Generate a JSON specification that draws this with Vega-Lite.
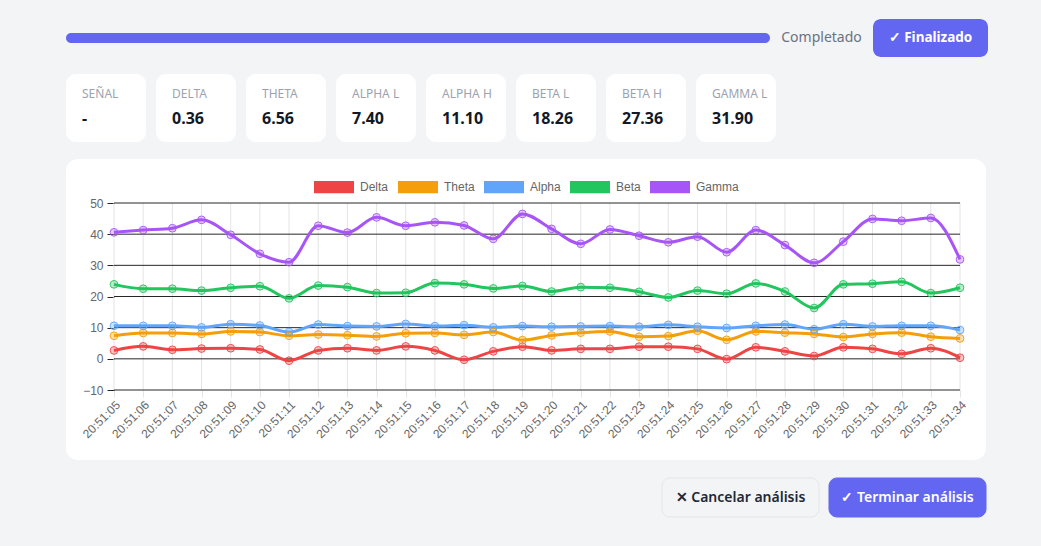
{
  "$schema": "https://vega.github.io/schema/vega-lite/v6.json",
  "background": "#f3f4f6",
  "padding": {"left": 66, "top": 19, "right": 55, "bottom": 30},
  "config": {
    "view": {"stroke": null},
    "font": "Noto Sans",
    "text": {"font": "Noto Sans"}
  },
  "datasets": {
    "ondas": [
      {"tiempo": "20:51:05", "Delta": 2.7, "Theta": 7.4, "Alpha": 10.6, "Beta": 23.9, "Gamma": 40.6},
      {"tiempo": "20:51:06", "Delta": 4.0, "Theta": 8.3, "Alpha": 10.6, "Beta": 22.5, "Gamma": 41.3},
      {"tiempo": "20:51:07", "Delta": 2.9, "Theta": 8.3, "Alpha": 10.6, "Beta": 22.5, "Gamma": 41.9},
      {"tiempo": "20:51:08", "Delta": 3.3, "Theta": 8.0, "Alpha": 10.1, "Beta": 21.9, "Gamma": 44.6},
      {"tiempo": "20:51:09", "Delta": 3.4, "Theta": 8.8, "Alpha": 11.1, "Beta": 22.8, "Gamma": 39.8},
      {"tiempo": "20:51:10", "Delta": 3.0, "Theta": 8.6, "Alpha": 10.7, "Beta": 23.3, "Gamma": 33.7},
      {"tiempo": "20:51:11", "Delta": -0.6, "Theta": 7.4, "Alpha": 8.6, "Beta": 19.4, "Gamma": 31.0},
      {"tiempo": "20:51:12", "Delta": 2.7, "Theta": 7.8, "Alpha": 11.0, "Beta": 23.5, "Gamma": 42.7},
      {"tiempo": "20:51:13", "Delta": 3.4, "Theta": 7.6, "Alpha": 10.5, "Beta": 23.0, "Gamma": 40.5},
      {"tiempo": "20:51:14", "Delta": 2.7, "Theta": 7.2, "Alpha": 10.4, "Beta": 21.1, "Gamma": 45.4},
      {"tiempo": "20:51:15", "Delta": 4.0, "Theta": 8.2, "Alpha": 11.2, "Beta": 21.2, "Gamma": 42.7},
      {"tiempo": "20:51:16", "Delta": 2.7, "Theta": 8.3, "Alpha": 10.5, "Beta": 24.3, "Gamma": 43.8},
      {"tiempo": "20:51:17", "Delta": -0.3, "Theta": 7.7, "Alpha": 10.8, "Beta": 23.9, "Gamma": 42.8},
      {"tiempo": "20:51:18", "Delta": 2.4, "Theta": 8.6, "Alpha": 10.1, "Beta": 22.6, "Gamma": 38.5},
      {"tiempo": "20:51:19", "Delta": 3.9, "Theta": 6.0, "Alpha": 10.5, "Beta": 23.4, "Gamma": 46.5},
      {"tiempo": "20:51:20", "Delta": 2.7, "Theta": 7.5, "Alpha": 10.3, "Beta": 21.6, "Gamma": 41.7},
      {"tiempo": "20:51:21", "Delta": 3.2, "Theta": 8.4, "Alpha": 10.4, "Beta": 23.0, "Gamma": 36.9},
      {"tiempo": "20:51:22", "Delta": 3.2, "Theta": 8.8, "Alpha": 10.5, "Beta": 22.8, "Gamma": 41.5},
      {"tiempo": "20:51:23", "Delta": 3.9, "Theta": 7.1, "Alpha": 10.3, "Beta": 21.5, "Gamma": 39.5},
      {"tiempo": "20:51:24", "Delta": 3.9, "Theta": 7.3, "Alpha": 10.9, "Beta": 19.7, "Gamma": 37.4},
      {"tiempo": "20:51:25", "Delta": 3.2, "Theta": 9.0, "Alpha": 10.3, "Beta": 21.9, "Gamma": 39.2},
      {"tiempo": "20:51:26", "Delta": -0.1, "Theta": 6.1, "Alpha": 9.9, "Beta": 20.9, "Gamma": 34.2},
      {"tiempo": "20:51:27", "Delta": 3.7, "Theta": 8.8, "Alpha": 10.6, "Beta": 24.2, "Gamma": 41.3},
      {"tiempo": "20:51:28", "Delta": 2.4, "Theta": 8.4, "Alpha": 11.0, "Beta": 21.6, "Gamma": 36.5},
      {"tiempo": "20:51:29", "Delta": 0.9, "Theta": 8.0, "Alpha": 9.5, "Beta": 16.3, "Gamma": 30.8},
      {"tiempo": "20:51:30", "Delta": 3.7, "Theta": 7.0, "Alpha": 11.1, "Beta": 23.9, "Gamma": 37.6},
      {"tiempo": "20:51:31", "Delta": 3.2, "Theta": 8.0, "Alpha": 10.4, "Beta": 24.1, "Gamma": 44.9},
      {"tiempo": "20:51:32", "Delta": 1.6, "Theta": 8.4, "Alpha": 10.6, "Beta": 24.7, "Gamma": 44.3},
      {"tiempo": "20:51:33", "Delta": 3.4, "Theta": 7.1, "Alpha": 10.6, "Beta": 21.1, "Gamma": 45.2},
      {"tiempo": "20:51:34", "Delta": 0.36, "Theta": 6.56, "Alpha": 9.25, "Beta": 22.81, "Gamma": 31.9}
    ],
    "niveles": [
      {"nivel": -10}, {"nivel": 0}, {"nivel": 10}, {"nivel": 20}, {"nivel": 30}, {"nivel": 40}, {"nivel": 50}
    ],
    "metricas": [
      {"campo": "SEÑAL", "valor": "-"},
      {"campo": "DELTA", "valor": "0.36"},
      {"campo": "THETA", "valor": "6.56"},
      {"campo": "ALPHA L", "valor": "7.40"},
      {"campo": "ALPHA H", "valor": "11.10"},
      {"campo": "BETA L", "valor": "18.26"},
      {"campo": "BETA H", "valor": "27.36"},
      {"campo": "GAMMA L", "valor": "31.90"}
    ],
    "acciones": [
      {"boton": "✕ Cancelar análisis", "tipo": "secundario"},
      {"boton": "✓ Terminar análisis", "tipo": "primario"}
    ]
  },
  "vconcat": [
    {
      "hconcat": [
        {
          "width": 704,
          "height": 10,
          "data": {"values": [{"progreso": 100}]},
          "mark": {"type": "bar", "cornerRadius": 5, "color": "#6366f1"},
          "encoding": {
            "x": {"field": "progreso", "type": "quantitative", "scale": {"domain": [0, 100]}, "axis": null},
            "y": {"datum": "progreso", "type": "nominal", "scale": {"paddingInner": 0, "paddingOuter": 0}, "axis": null}
          }
        },
        {
          "width": 79,
          "height": 20,
          "data": {"values": [{"estado": "Completado"}]},
          "mark": {"type": "text", "fontSize": 14, "color": "#6b7280"},
          "encoding": {"text": {"field": "estado"}}
        },
        {
          "width": 115,
          "height": 38,
          "view": {"fill": "#6366f1", "cornerRadius": 8, "stroke": null},
          "data": {"values": [{"estado": "✓ Finalizado"}]},
          "mark": {"type": "text", "fontSize": 13.5, "fontWeight": "bold", "color": "white"},
          "encoding": {"text": {"field": "estado"}}
        }
      ],
      "spacing": 11,
      "center": true
    },
    {
      "width": 710,
      "height": 68,
      "data": {"name": "metricas"},
      "layer": [
        {
          "mark": {"type": "bar", "cornerRadius": 10, "fill": "white"},
          "encoding": {
            "x": {"field": "campo", "type": "nominal", "sort": null, "axis": null, "scale": {"paddingInner": 0.111, "paddingOuter": 0}}
          }
        },
        {
          "mark": {"type": "text", "align": "left", "dx": 16, "dy": -14, "fontSize": 12, "color": "#9ca3af"},
          "encoding": {
            "x": {"field": "campo", "type": "nominal", "sort": null, "bandPosition": 0},
            "text": {"field": "campo"}
          }
        },
        {
          "mark": {"type": "text", "align": "left", "dx": 16, "dy": 11, "fontSize": 16, "fontWeight": "bold", "color": "#111827"},
          "encoding": {
            "x": {"field": "campo", "type": "nominal", "sort": null, "bandPosition": 0},
            "text": {"field": "valor"}
          }
        }
      ]
    },
    {
      "width": 920,
      "height": 301,
      "view": {"fill": "white", "cornerRadius": 12, "stroke": null},
      "layer": [
        {
          "data": {"name": "ondas"},
          "mark": {"type": "rule", "color": "#e4e4e4", "strokeWidth": 1},
          "encoding": {
            "x": {
              "field": "tiempo", "type": "ordinal",
              "scale": {"type": "point", "range": [48, 894], "padding": 0},
              "axis": {"orient": "bottom", "offset": -70, "labelAngle": -45, "labelFont": "Liberation Sans", "labelFontSize": 12, "labelColor": "#666666", "tickColor": "#e4e4e4", "tickSize": 7, "domain": false, "grid": false, "title": null, "labelPadding": 2}
            },
            "y": {
              "datum": -10, "type": "quantitative",
              "scale": {"domain": [-10, 50], "range": [231, 44], "nice": false, "zero": false},
              "axis": {"orient": "left", "offset": -48, "values": [-10, 0, 10, 20, 30, 40, 50], "tickColor": "#262626", "tickSize": 7, "domain": false, "grid": false, "labelColor": "#666666", "labelFontSize": 12, "labelFont": "Liberation Sans", "labelPadding": 4, "title": null}
            },
            "y2": {"datum": 50}
          }
        },
        {
          "data": {"name": "niveles"},
          "mark": {"type": "rule", "color": "#262626", "strokeWidth": 1},
          "encoding": {
            "y": {"field": "nivel", "type": "quantitative"},
            "x": {"datum": "20:51:05", "type": "ordinal"},
            "x2": {"datum": "20:51:34"}
          }
        },
        {
          "data": {"name": "ondas"},
          "transform": [{"fold": ["Delta", "Theta", "Alpha", "Beta", "Gamma"], "as": ["banda", "valor"]}],
          "mark": {"type": "line", "interpolate": "monotone", "strokeWidth": 3},
          "encoding": {
            "x": {"field": "tiempo", "type": "ordinal"},
            "y": {"field": "valor", "type": "quantitative"},
            "stroke": {
              "field": "banda", "type": "nominal",
              "scale": {"domain": ["Delta", "Theta", "Alpha", "Beta", "Gamma"], "range": ["#ef4444", "#f59e0b", "#60a5fa", "#22c55e", "#a855f7"]},
              "legend": {
                "orient": "none", "legendX": 248, "legendY": 148, "direction": "horizontal", "title": null,
                "symbolType": "M-1,-0.25H1V0.25H-1Z", "symbolSize": 1369, "symbolStrokeWidth": 3, "symbolFillColor": "#e6e6e6",
                "labelFont": "Liberation Sans", "labelFontSize": 12, "labelColor": "#666666", "labelOffset": 6, "columnPadding": 4
              }
            }
          }
        },
        {
          "data": {"name": "ondas"},
          "transform": [{"fold": ["Delta", "Theta", "Alpha", "Beta", "Gamma"], "as": ["banda", "valor"]}],
          "mark": {"type": "circle", "size": 60, "opacity": 0.3},
          "encoding": {
            "x": {"field": "tiempo", "type": "ordinal"},
            "y": {"field": "valor", "type": "quantitative"},
            "color": {"field": "banda", "type": "nominal", "legend": null, "scale": {"domain": ["Delta", "Theta", "Alpha", "Beta", "Gamma"], "range": ["#ef4444", "#f59e0b", "#60a5fa", "#22c55e", "#a855f7"]}}
          }
        },
        {
          "data": {"name": "ondas"},
          "transform": [{"fold": ["Delta", "Theta", "Alpha", "Beta", "Gamma"], "as": ["banda", "valor"]}],
          "mark": {"type": "point", "size": 60, "filled": false, "strokeWidth": 1, "opacity": 0.9},
          "encoding": {
            "x": {"field": "tiempo", "type": "ordinal"},
            "y": {"field": "valor", "type": "quantitative"},
            "color": {"field": "banda", "type": "nominal", "legend": null}
          }
        }
      ]
    },
    {
      "width": 920,
      "height": 39,
      "data": {"name": "acciones"},
      "layer": [
        {
          "mark": {"type": "bar", "cornerRadius": 8, "strokeWidth": 1},
          "encoding": {
            "x": {"field": "boton", "type": "nominal", "sort": null, "axis": null, "scale": {"type": "band", "range": [596, 920], "paddingInner": 0.06, "paddingOuter": 0}},
            "fill": {"condition": {"test": "datum.tipo === 'secundario'", "value": "#f3f4f6"}, "value": "#6366f1"},
            "stroke": {"condition": {"test": "datum.tipo === 'secundario'", "value": "#e3e5e8"}, "value": "#6366f1"}
          }
        },
        {
          "mark": {"type": "text", "fontSize": 14, "fontWeight": 600},
          "encoding": {
            "x": {"field": "boton", "type": "nominal", "sort": null},
            "text": {"field": "boton"},
            "color": {"condition": {"test": "datum.tipo === 'secundario'", "value": "#1f2937"}, "value": "#ffffff"}
          }
        }
      ]
    }
  ],
  "spacing": 17
}
